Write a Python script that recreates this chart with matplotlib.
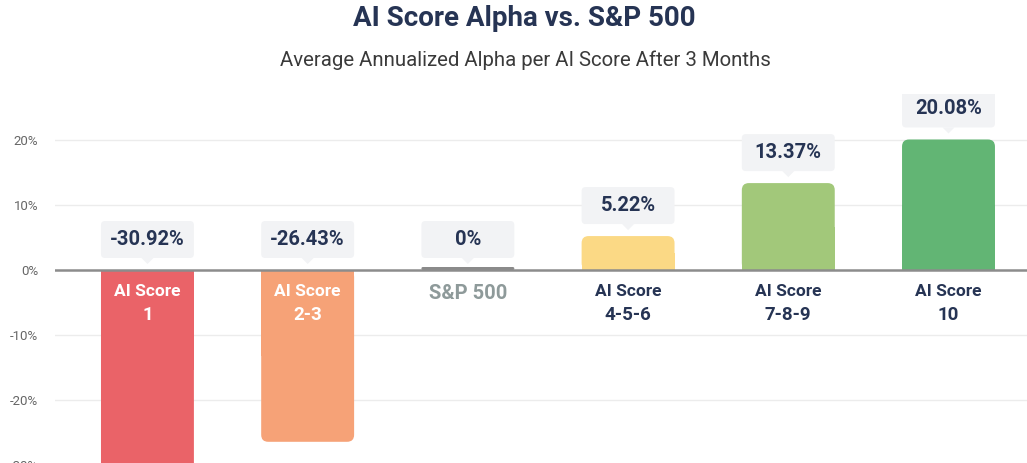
import matplotlib.pyplot as plt
from matplotlib.patches import FancyBboxPatch, Rectangle, Polygon

# Données
categories = ["AI Score\n1", "AI Score\n2-3", "S&P 500", "AI Score\n4-5-6", "AI Score\n7-8-9", "AI Score\n10"]
alpha = [-30.92, -26.43, 0.0, 5.22, 13.37, 20.08]
value_labels = ["-30.92%", "-26.43%", "0%", "5.22%", "13.37%", "20.08%"]
colors = ["#ea6368", "#f6a277", "#8a8a8a", "#fbd985", "#a2c87a", "#62b574"]
yticks = [-30, -20, -10, 0, 10, 20]

NAVY = "#263454"
plt.rcParams['font.family'] = ['Roboto', 'DejaVu Sans']

W, H = 1027, 463
fig = plt.figure(figsize=(W / 100, H / 100), dpi=100)
ylim = (-32, 27)
px_per_unit = 6.5
y0_px = 270
ax_top = y0_px - ylim[1] * px_per_unit
ax_bot = y0_px - ylim[0] * px_per_unit
ax = fig.add_axes([55 / W, (H - ax_bot) / H, 1 - 55 / W, (ax_bot - ax_top) / H])
ax.set_xlim(-0.577, 5.49)
ax.set_ylim(*ylim)

for s in ax.spines.values():
    s.set_visible(False)
ax.set_yticks(yticks)
ax.set_yticklabels([f"{t}%" for t in yticks], color="#666666", fontsize=9.5)
ax.tick_params(axis='y', length=0, pad=12)
ax.set_xticks([])
for t in yticks:
    if t != 0:
        ax.axhline(t, color="#ececec", lw=1, zorder=0)
ax.axhline(0, color="#8c8c8c", lw=1.8, zorder=3)

width = 0.58
x = list(range(len(categories)))
bars = ax.bar(x, alpha, width=width, color="none")

# échelle px -> unités de données
ux = (ax.get_xlim()[1] - ax.get_xlim()[0]) / (W - 55)
uy = 1 / px_per_unit
aspect = uy / ux
r = 7 * ux

for b, v, c in zip(bars, alpha, colors):
    bx = b.get_x()
    if v == 0:
        # barre de référence : simple trait gris
        ax.add_patch(FancyBboxPatch((bx, 0), width, 3 * uy,
                                    boxstyle=f"round,pad=0,rounding_size={1.5 * ux}",
                                    mutation_aspect=aspect, fc=c, ec="none", zorder=2))
        continue
    lo, hi = min(0, v), max(0, v)
    ax.add_patch(FancyBboxPatch((bx, lo), width, hi - lo,
                                boxstyle=f"round,pad=0,rounding_size={r}",
                                mutation_aspect=aspect, fc=c, ec="none", zorder=2))
    # coins droits côté zéro
    if v > 0:
        ax.add_patch(Rectangle((bx, 0), width, v / 2, fc=c, ec="none", zorder=2))
    else:
        ax.add_patch(Rectangle((bx, v / 2), width, -v / 2, fc=c, ec="none", zorder=2))

# bulles de valeur
box_h = 37 * uy
gap = 12 * uy
for xi, v, lab in zip(x, alpha, value_labels):
    base = max(v, 0) + gap
    ax.add_patch(FancyBboxPatch((xi - width / 2, base), width, box_h,
                                boxstyle=f"round,pad=0,rounding_size={4 * ux}",
                                mutation_aspect=aspect, fc="#f2f3f5", ec="none", zorder=4))
    ax.add_patch(Polygon([(xi - 6 * ux, base), (xi + 6 * ux, base), (xi, base - 6 * uy)],
                         closed=True, fc="#f2f3f5", ec="none", zorder=4))
    ax.text(xi, base + box_h / 2, lab, ha='center', va='center', fontsize=14.5,
            fontweight='bold', color=NAVY, zorder=5)

# étiquettes de catégorie
for xi, v, cat in zip(x, alpha, categories):
    if "\n" in cat:
        top, num = cat.split("\n")
        col = "white" if v < 0 else NAVY
        ax.text(xi, -3.3, top, ha='center', va='center', fontsize=12.5,
                fontweight='bold', color=col, zorder=5)
        ax.text(xi, -6.9, num, ha='center', va='center', fontsize=13.5,
                fontweight='bold', color=col, zorder=5)
    else:
        ax.text(xi, -3.6, cat, ha='center', va='center', fontsize=14.5,
                fontweight='bold', color="#8e9a9a", zorder=5)

fig.text(524 / W, 1 - 19 / H, "AI Score Alpha vs. S&P 500", ha='center', va='center',
         fontsize=20, fontweight='bold', color=NAVY)
fig.text(525 / W, 1 - 60 / H, "Average Annualized Alpha per AI Score After 3 Months",
         ha='center', va='center', fontsize=14.7, color="#3a3a3a")

fig.savefig("out.png", dpi=100)
